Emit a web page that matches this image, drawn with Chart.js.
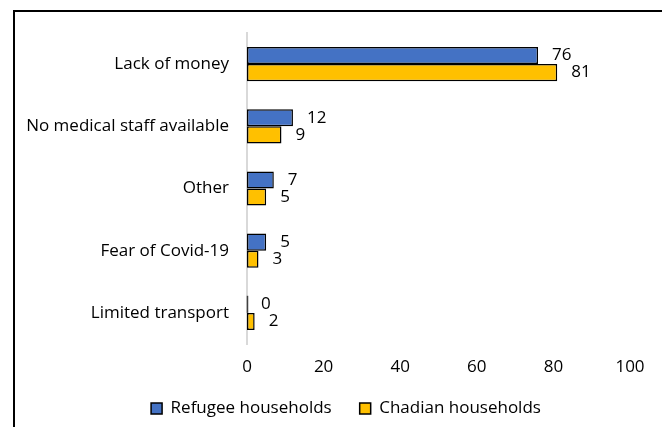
<!DOCTYPE html>
<html>
<head>
<meta charset="utf-8">
<script src="https://cdn.jsdelivr.net/npm/chart.js@4"></script>
<style>
  html, body { margin: 0; padding: 0; background: #fff; }
  #wrap { position: relative; width: 662px; height: 427px; }
</style>
</head>
<body>
<div id="wrap"><canvas id="myChart" width="662" height="427"></canvas></div>
<script>
const reasons = ["Lack of money", "No medical staff available", "Other", "Fear of Covid-19", "Limited transport"];
const refugee = [76, 12, 7, 5, 0];
const chadian = [81, 9, 5, 3, 2];
const xTicks = [0, 20, 40, 60, 80, 100];

const font = "'Open Sans', sans-serif";

// black frame on the left and top edges
const framePlugin = {
  id: "frame",
  afterLayout(chart) {
    // centre the legend a bit further right, under the plot
    chart.legend.left += 62;
  },
  beforeDraw(chart) {
    const c = chart.ctx;
    c.save();
    c.strokeStyle = "#000";
    c.lineWidth = 2;
    c.beginPath();
    c.moveTo(14, 427);
    c.lineTo(14, 11);
    c.lineTo(662, 11);
    c.stroke();
    c.restore();
  },
};

// value next to the end of every bar; zero bars still get their outline
const valueLabels = {
  id: "valueLabels",
  afterDatasetsDraw(chart) {
    const c = chart.ctx;
    c.save();
    c.font = "17px " + font;
    c.fillStyle = "#000";
    c.textBaseline = "middle";
    c.textAlign = "left";
    chart.data.datasets.forEach((ds, i) => {
      chart.getDatasetMeta(i).data.forEach((bar, j) => {
        if (ds.data[j] === 0) {
          c.strokeStyle = "#404040";
          c.lineWidth = 1.5;
          c.beginPath();
          c.moveTo(bar.x + 0.5, bar.y - bar.height / 2);
          c.lineTo(bar.x + 0.5, bar.y + bar.height / 2);
          c.stroke();
        }
        c.fillText(String(ds.data[j]), bar.x + 14, bar.y);
      });
    });
    c.restore();
  },
};

const ctx = document.getElementById("myChart").getContext("2d");
const chart = new Chart(ctx, {
  type: "bar",
  data: {
    labels: reasons,
    datasets: [
      {
        label: "Refugee households",
        data: refugee,
        backgroundColor: "#4472C4",
        borderColor: "#000",
        borderWidth: 1.5,
        borderSkipped: false,
      },
      {
        label: "Chadian households",
        data: chadian,
        backgroundColor: "#FFC000",
        borderColor: "#000",
        borderWidth: 1.5,
        borderSkipped: false,
      },
    ],
  },
  options: {
    indexAxis: "y",
    responsive: false,
    animation: false,
    layout: { padding: { left: 0, top: 33, right: 32, bottom: 0 } },
    datasets: { bar: { barPercentage: 1, categoryPercentage: 0.55 } },
    scales: {
      x: {
        min: 0,
        max: 100,
        afterBuildTicks(scale) {
          scale.ticks = xTicks.map((v) => ({ value: v }));
        },
        afterFit(scale) {
          scale.height = 28;
        },
        grid: { display: false, drawTicks: false },
        border: { display: false },
        ticks: { color: "#000", padding: 13, font: { family: font, size: 17 } },
      },
      y: {
        afterFit(scale) {
          scale.width = 247;
        },
        grid: { display: false, drawTicks: false },
        border: { display: true, color: "#d9d9d9", width: 2 },
        ticks: { color: "#000", padding: 18, font: { family: font, size: 17 } },
      },
    },
    plugins: {
      legend: {
        position: "bottom",
        labels: {
          color: "#000",
          boxWidth: 11,
          boxHeight: 11,
          padding: 28,
          font: { family: font, size: 17 },
          generateLabels(chart) {
            return chart.data.datasets.map((ds, i) => ({
              text: ds.label,
              fillStyle: ds.backgroundColor,
              strokeStyle: "#000",
              lineWidth: 1.5,
              datasetIndex: i,
            }));
          },
        },
      },
      tooltip: { enabled: false },
    },
  },
  plugins: [framePlugin, valueLabels],
});
</script>
</body>
</html>
